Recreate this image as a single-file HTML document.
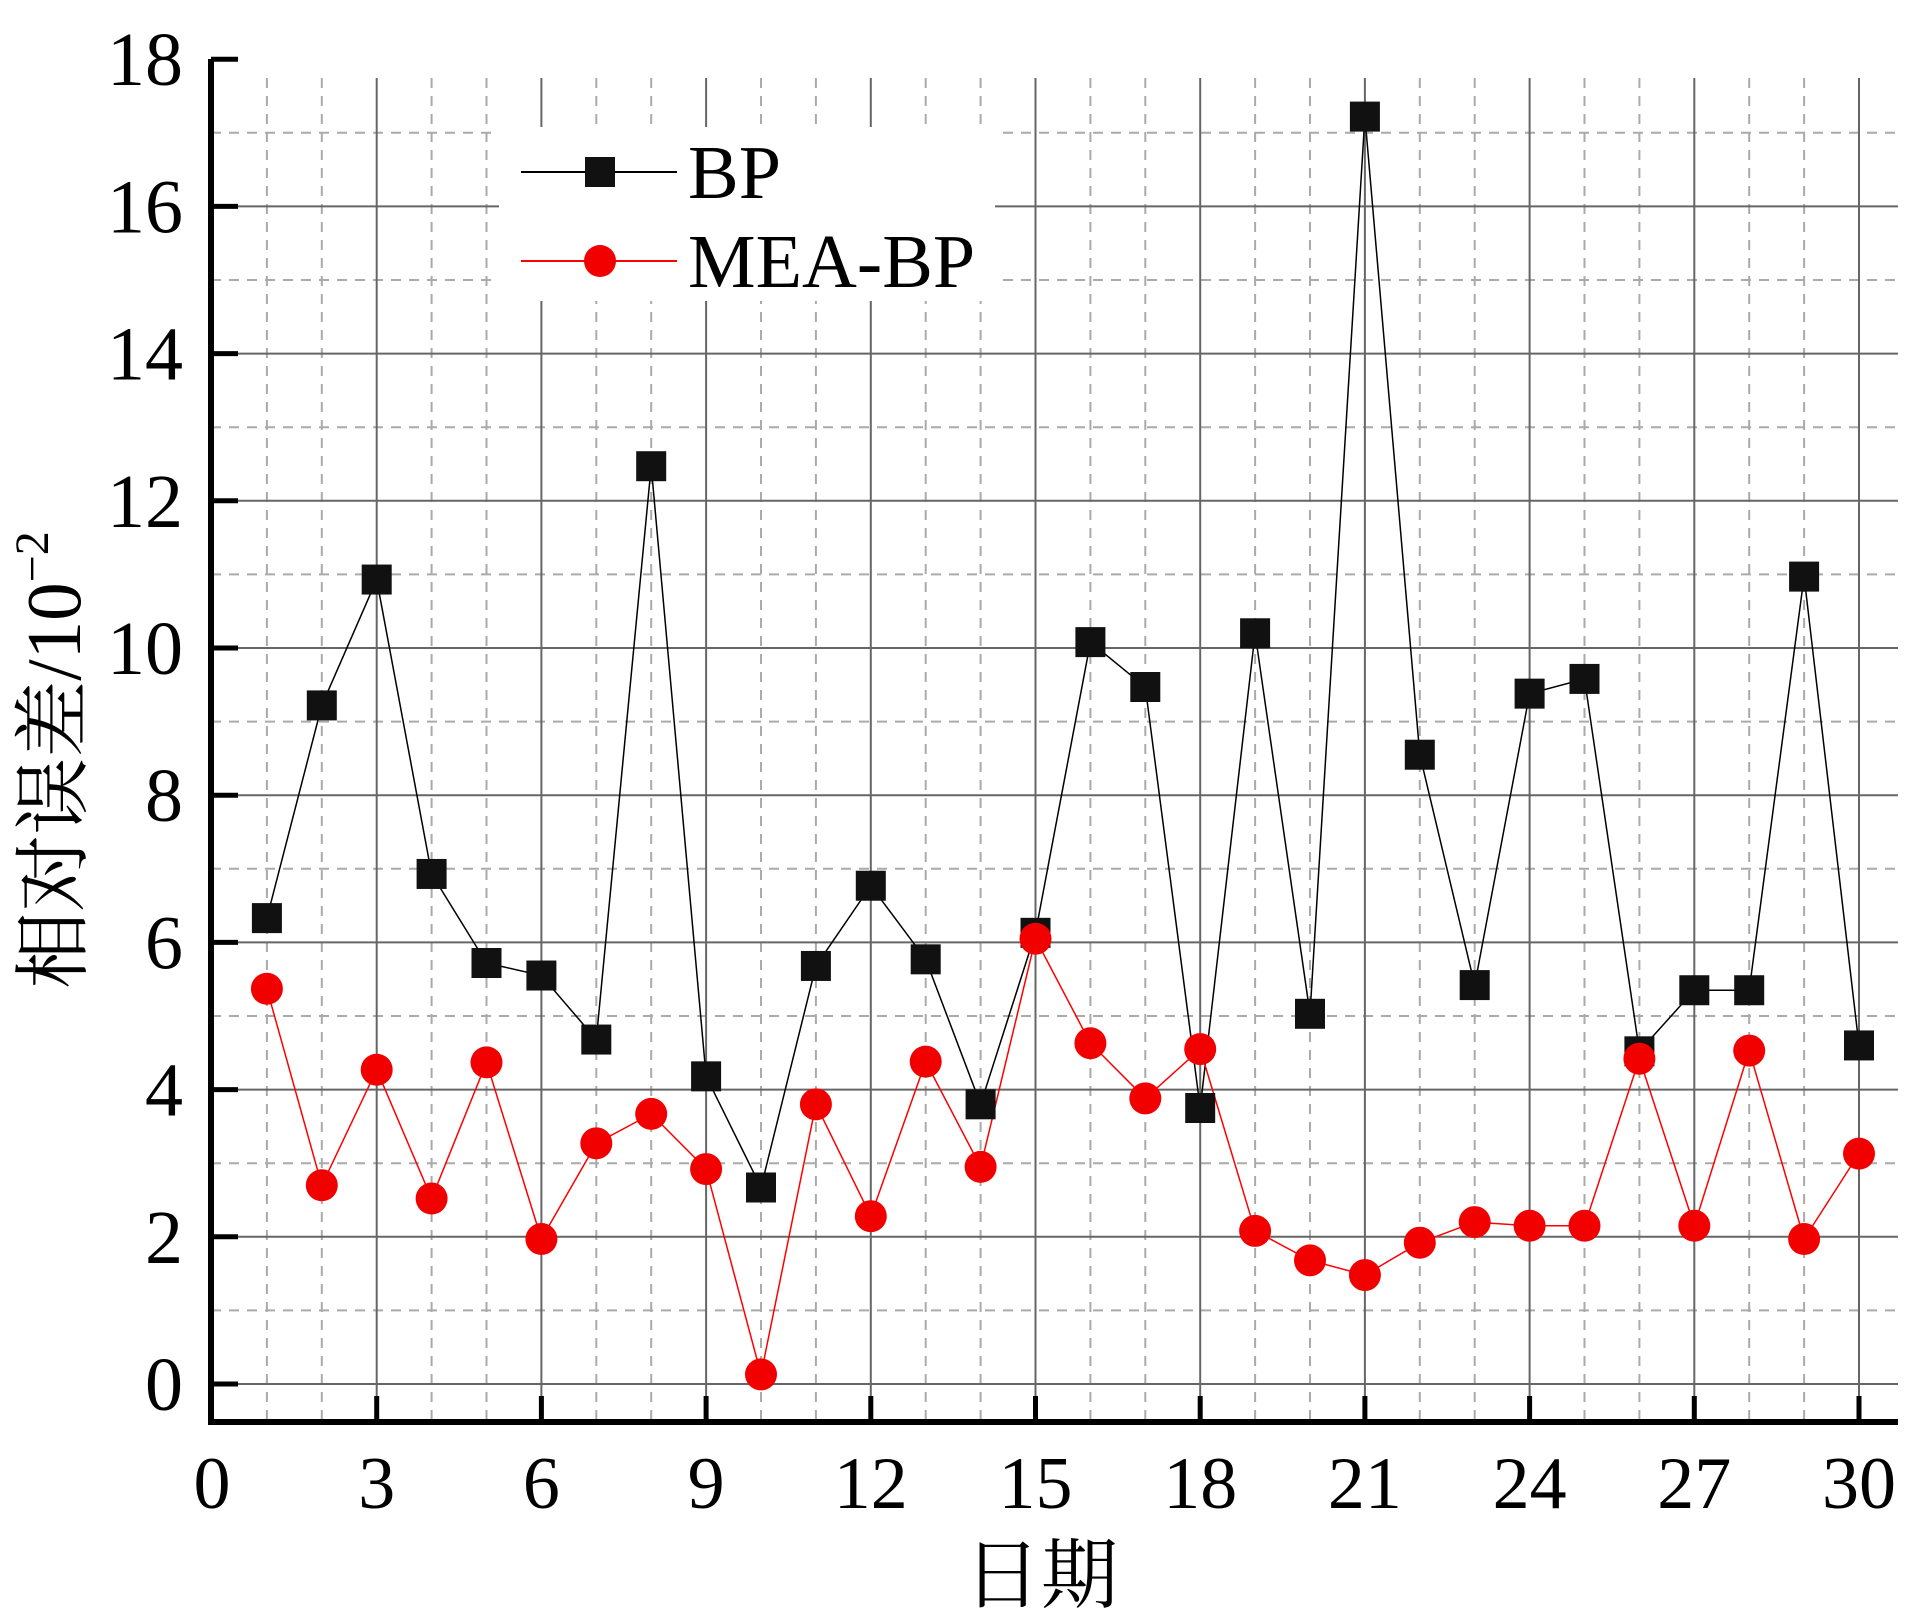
<!DOCTYPE html>
<html><head><meta charset="utf-8"><style>
html,body{margin:0;padding:0;background:#fff}
svg{display:block}
text{font-family:"Liberation Serif","Noto Serif CJK SC",serif;fill:#000}
</style></head><body>
<svg id="chart" width="1925" height="1623" viewBox="0 0 1925 1623" xmlns="http://www.w3.org/2000/svg">
<g id="grid"></g>
<g id="series"></g>
<g id="axes"></g>
<g id="legend"></g>
<text transform="translate(80,760) rotate(-90)" text-anchor="middle" font-size="77">相对误差/10<tspan font-size="48" dy="-32">−2</tspan></text>
<text x="1041" y="1602" text-anchor="middle" font-size="77">日期</text>
</svg>
<script>
const days = [1,2,3,4,5,6,7,8,9,10,11,12,13,14,15,16,17,18,19,20,21,22,23,24,25,26,27,28,29,30];
const bpValues = [6.33,9.22,10.93,6.93,5.72,5.55,4.68,12.47,4.18,2.67,5.68,6.77,5.77,3.8,6.13,10.08,9.47,3.75,10.2,5.03,17.22,8.55,5.42,9.38,9.58,4.52,5.35,5.35,10.97,4.6];
const meaValues = [5.37,2.7,4.27,2.52,4.37,1.97,3.27,3.67,2.92,0.13,3.8,2.28,4.38,2.95,6.05,4.63,3.88,4.55,2.08,1.68,1.48,1.92,2.2,2.15,2.15,4.42,2.15,4.53,1.97,3.13];
const xTicks = [0,3,6,9,12,15,18,21,24,27,30];
const yTicks = [0,2,4,6,8,10,12,14,16,18];

const NS = "http://www.w3.org/2000/svg";
const X0 = 212, XU = 54.9, Y0 = 1384, YU = 73.6;
const AX_L = 211, AX_R = 1898, AX_B = 1422, AX_T = 61, PLOT_T = 78;
function xs(v){return X0 + v*XU;}
function ys(v){return Y0 - v*YU;}
function mk(tag, attrs, parent){
  const e = document.createElementNS(NS, tag);
  for (const k in attrs) e.setAttribute(k, attrs[k]);
  parent.appendChild(e);
  return e;
}
const grid = document.getElementById('grid');
const axes = document.getElementById('axes');
const series = document.getElementById('series');
const legend = document.getElementById('legend');

for (let d = 1; d <= 30; d++) {
  if (d % 3 === 0) continue;
  const l = mk('line', {x1: xs(d), x2: xs(d), y1: PLOT_T, y2: AX_B, stroke: '#aaa', 'stroke-width': 2, 'stroke-dasharray': '10 8'}, grid);
  
  
}
for (let v = 1; v < 18; v += 2) {
  const l = mk('line', {x1: AX_L, x2: AX_R, y1: ys(v), y2: ys(v), stroke: '#aaa', 'stroke-width': 2, 'stroke-dasharray': '10 8'}, grid);
  
  
}
xTicks.forEach(t => {
  if (t === 0) return;
  const l = mk('line', {x1: xs(t), x2: xs(t), y1: PLOT_T, y2: AX_B, stroke: '#666', 'stroke-width': 2}, grid);
  
  
});
yTicks.forEach(t => {
  if (t === 18) return;
  const l = mk('line', {x1: AX_L, x2: AX_R, y1: ys(t), y2: ys(t), stroke: '#666', 'stroke-width': 2}, grid);
  
  
});

function pts(vals){return vals.map((v,i)=>xs(days[i])+','+ys(v)).join(' ');}
const bpLine = mk('polyline', {points: pts(bpValues), fill: 'none', stroke: '#000', 'stroke-width': 1.5}, series);


const meaLine = mk('polyline', {points: pts(meaValues), fill: 'none', stroke: '#f00', 'stroke-width': 1.5}, series);


bpValues.forEach((v,i) => {
  const r = mk('rect', {x: xs(days[i])-15, y: ys(v)-15, width: 30, height: 30, fill: '#111'}, series);
  
  
});
meaValues.forEach((v,i) => {
  const c = mk('circle', {cx: xs(days[i]), cy: ys(v), r: 16, fill: '#f20000'}, series);
  
  
});

const yAxis = mk('line', {x1: AX_L, x2: AX_L, y1: AX_T-2, y2: AX_B+3, stroke: '#000', 'stroke-width': 6}, axes);


const xAxis = mk('line', {x1: AX_L-3, x2: AX_R, y1: AX_B, y2: AX_B, stroke: '#000', 'stroke-width': 6}, axes);


xTicks.forEach(t => {
  if (t !== 0) {
    const k = mk('line', {x1: xs(t), x2: xs(t), y1: AX_B, y2: AX_B-26, stroke: '#000', 'stroke-width': 5}, axes);
    
    
  }
  const tx = mk('text', {x: xs(t), y: 1508, 'text-anchor': 'middle', 'font-size': 74}, axes);
  tx.textContent = t;
  
  
});
yTicks.forEach(t => {
  const k = mk('line', {x1: AX_L, x2: AX_L+27, y1: ys(t), y2: ys(t), stroke: '#000', 'stroke-width': 5}, axes);
  
  
  const tx = mk('text', {x: 183, y: ys(t)+26, 'text-anchor': 'end', 'font-size': 76}, axes);
  tx.textContent = t;
  
  
});

const lb = mk('rect', {x: 499, y: 127, width: 496, height: 174, fill: '#fff'}, legend);


const l1 = mk('line', {x1: 521, x2: 677, y1: 172, y2: 172, stroke: '#000', 'stroke-width': 2}, legend);


const s1 = mk('rect', {x: 585, y: 157, width: 30, height: 30, fill: '#111'}, legend);


const t1 = mk('text', {x: 688, y: 198, 'font-size': 76}, legend);
t1.textContent = 'BP';


const l2 = mk('line', {x1: 521, x2: 677, y1: 261, y2: 261, stroke: '#f00', 'stroke-width': 2}, legend);


const c2 = mk('circle', {cx: 600, cy: 261, r: 16, fill: '#f20000'}, legend);


const t2 = mk('text', {x: 688, y: 287, 'font-size': 76}, legend);
t2.textContent = 'MEA-BP';


</script>
</body></html>
